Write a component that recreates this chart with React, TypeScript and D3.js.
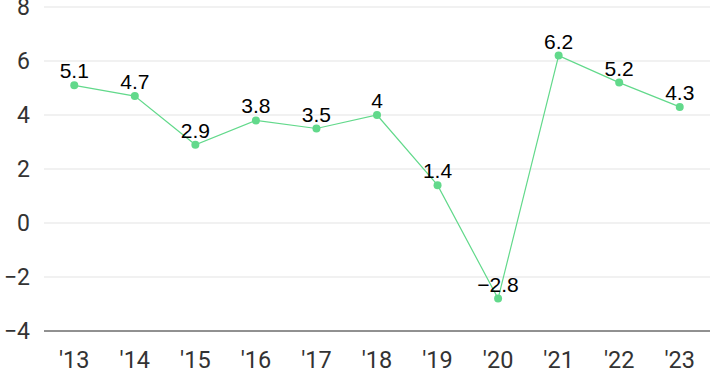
import React from "react";
import * as d3 from "d3";

const years = ["'13", "'14", "'15", "'16", "'17", "'18", "'19", "'20", "'21", "'22", "'23"];
const values = [5.1, 4.7, 2.9, 3.8, 3.5, 4, 1.4, -2.8, 6.2, 5.2, 4.3];
const yTicks = [-4, -2, 0, 2, 4, 6, 8];

const W = 710;
const H = 371;
const green = "#62d98b";

export default function App() {
  const x = d3.scalePoint<string>().domain(years).range([44, 710]).padding(0.5);
  const y = d3.scaleLinear().domain([-4, 8]).range([331, 7]);
  const line = d3
    .line<number>()
    .x((_, i) => x(years[i])!)
    .y((d) => y(d));
  const fmt = (v: number) => String(v).replace("-", "\u2212");
  return (
    <svg
      width={W}
      height={H}
      style={{ position: "absolute", left: 0, top: 0, fontFamily: "Roboto, 'Liberation Sans', Arial, sans-serif" }}
    >
      {yTicks.map((t) => (
        <g key={t}>
          <line
            x1={44}
            x2={W}
            y1={y(t)}
            y2={y(t)}
            stroke={t === -4 ? "#222" : "#e3e3e3"}
            strokeWidth={1}
          />
          <text x={30} y={y(t)} dy="0.35em" textAnchor="end" fontSize={23} fill="#333">
            {fmt(t)}
          </text>
        </g>
      ))}
      {years.map((yr) => (
        <text key={yr} x={x(yr)} y={368} textAnchor="middle" fontSize={23.5} fill="#333">
          {yr}
        </text>
      ))}
      <path d={line(values)!} fill="none" stroke={green} strokeWidth={1.2} />
      {values.map((v, i) => (
        <circle key={i} cx={x(years[i])} cy={y(v)} r={4} fill={green} />
      ))}
      {values.map((v, i) => (
        <text
          key={"l" + i}
          x={x(years[i])}
          y={y(v) - 7}
          textAnchor="middle"
          fontSize={21}
          fill="#000"
          fontFamily="'Liberation Sans', Arial, sans-serif"
        >
          {fmt(v)}
        </text>
      ))}
    </svg>
  );
}
